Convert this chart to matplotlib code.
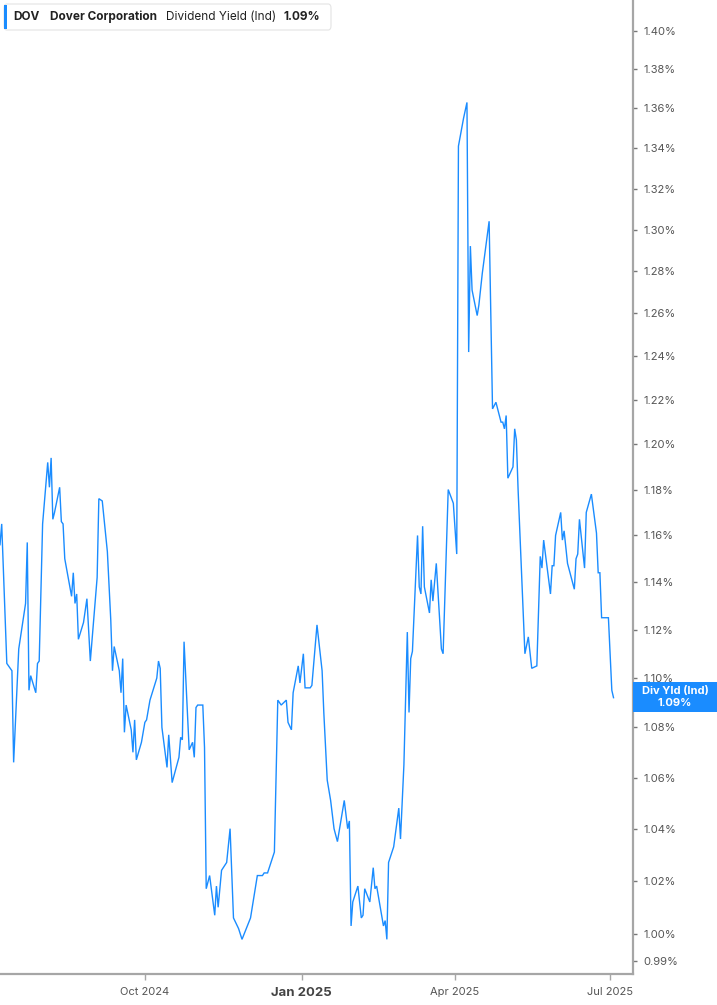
import matplotlib
matplotlib.use("Agg")
import matplotlib.pyplot as plt
import matplotlib.dates as mdates
from matplotlib.patches import FancyBboxPatch, Rectangle
from matplotlib.ticker import FixedLocator, NullLocator, FuncFormatter
import pandas as pd

plt.rcParams['font.family'] = ['Inter', 'DejaVu Sans']

# ---------------- data ----------------
dates = [
    "2024-07-08", "2024-07-09", "2024-07-12", "2024-07-15", "2024-07-16", "2024-07-19",
    "2024-07-23", "2024-07-24", "2024-07-25", "2024-07-26", "2024-07-29", "2024-07-30",
    "2024-07-31", "2024-08-02", "2024-08-05", "2024-08-06", "2024-08-07", "2024-08-08",
    "2024-08-09", "2024-08-12", "2024-08-13", "2024-08-14", "2024-08-15", "2024-08-19",
    "2024-08-20", "2024-08-21", "2024-08-22", "2024-08-23", "2024-08-26", "2024-08-28",
    "2024-08-30", "2024-09-03", "2024-09-04", "2024-09-06", "2024-09-09", "2024-09-11",
    "2024-09-12", "2024-09-13", "2024-09-16", "2024-09-17", "2024-09-18", "2024-09-19",
    "2024-09-20", "2024-09-23", "2024-09-24", "2024-09-25", "2024-09-26", "2024-09-29",
    "2024-10-01", "2024-10-02", "2024-10-04", "2024-10-08", "2024-10-09", "2024-10-10",
    "2024-10-11", "2024-10-14", "2024-10-15", "2024-10-17", "2024-10-21", "2024-10-22",
    "2024-10-23", "2024-10-24", "2024-10-27", "2024-10-29", "2024-10-30", "2024-10-31",
    "2024-11-01", "2024-11-04", "2024-11-05", "2024-11-06", "2024-11-08", "2024-11-11",
    "2024-11-12", "2024-11-13", "2024-11-15", "2024-11-18", "2024-11-20", "2024-11-22",
    "2024-11-25", "2024-11-27", "2024-12-02", "2024-12-04", "2024-12-06", "2024-12-09",
    "2024-12-10", "2024-12-12", "2024-12-16", "2024-12-18", "2024-12-20", "2024-12-23",
    "2024-12-24", "2024-12-26", "2024-12-27", "2024-12-30", "2024-12-31", "2025-01-02",
    "2025-01-03", "2025-01-06", "2025-01-07", "2025-01-10", "2025-01-13", "2025-01-14",
    "2025-01-16", "2025-01-18", "2025-01-20", "2025-01-22", "2025-01-26", "2025-01-28",
    "2025-01-29", "2025-01-30", "2025-01-31", "2025-02-03", "2025-02-05", "2025-02-06",
    "2025-02-07", "2025-02-10", "2025-02-12", "2025-02-13", "2025-02-14", "2025-02-18",
    "2025-02-19", "2025-02-20", "2025-02-21", "2025-02-24", "2025-02-27", "2025-02-28",
    "2025-03-02", "2025-03-04", "2025-03-05", "2025-03-06", "2025-03-07", "2025-03-10",
    "2025-03-11", "2025-03-12", "2025-03-13", "2025-03-14", "2025-03-17", "2025-03-18",
    "2025-03-19", "2025-03-21", "2025-03-24", "2025-03-25", "2025-03-28", "2025-03-31",
    "2025-04-02", "2025-04-03", "2025-04-06", "2025-04-08", "2025-04-09", "2025-04-10",
    "2025-04-11", "2025-04-14", "2025-04-15", "2025-04-17", "2025-04-21", "2025-04-23",
    "2025-04-25", "2025-04-28", "2025-04-29", "2025-04-30", "2025-05-01", "2025-05-02",
    "2025-05-05", "2025-05-06", "2025-05-07", "2025-05-08", "2025-05-12", "2025-05-14",
    "2025-05-16", "2025-05-19", "2025-05-21", "2025-05-22", "2025-05-23", "2025-05-27",
    "2025-05-28", "2025-05-29", "2025-05-30", "2025-06-02", "2025-06-03", "2025-06-04",
    "2025-06-06", "2025-06-10", "2025-06-11", "2025-06-12", "2025-06-13", "2025-06-16",
    "2025-06-17", "2025-06-20", "2025-06-23", "2025-06-24", "2025-06-25", "2025-06-26",
    "2025-06-28", "2025-06-30", "2025-07-02", "2025-07-03",
]
div_yield = [
    1.156, 1.165, 1.106, 1.103, 1.066, 1.112,
    1.131, 1.157, 1.095, 1.101, 1.094, 1.106,
    1.107, 1.165, 1.192, 1.181, 1.194, 1.167,
    1.170, 1.181, 1.166, 1.165, 1.150, 1.134,
    1.144, 1.131, 1.135, 1.116, 1.123, 1.133,
    1.107, 1.142, 1.176, 1.175, 1.153, 1.124,
    1.103, 1.113, 1.103, 1.094, 1.108, 1.078,
    1.089, 1.079, 1.070, 1.083, 1.067, 1.074,
    1.082, 1.083, 1.091, 1.100, 1.107, 1.104,
    1.080, 1.064, 1.077, 1.058, 1.068, 1.076,
    1.075, 1.115, 1.071, 1.074, 1.068, 1.088,
    1.089, 1.089, 1.072, 1.017, 1.022, 1.007,
    1.018, 1.010, 1.024, 1.027, 1.040, 1.006,
    1.002, 0.998, 1.006, 1.014, 1.022, 1.022,
    1.023, 1.023, 1.031, 1.091, 1.089, 1.091,
    1.082, 1.079, 1.094, 1.105, 1.098, 1.110,
    1.096, 1.096, 1.097, 1.122, 1.103, 1.086,
    1.059, 1.051, 1.040, 1.035, 1.051, 1.040,
    1.043, 1.003, 1.012, 1.018, 1.006, 1.007,
    1.017, 1.012, 1.025, 1.017, 1.018, 1.003,
    1.005, 0.998, 1.027, 1.033, 1.048, 1.036,
    1.065, 1.119, 1.086, 1.108, 1.111, 1.160,
    1.138, 1.135, 1.164, 1.138, 1.127, 1.141,
    1.132, 1.148, 1.112, 1.110, 1.180, 1.174,
    1.152, 1.341, 1.355, 1.363, 1.242, 1.292,
    1.271, 1.259, 1.264, 1.279, 1.304, 1.216,
    1.219, 1.210, 1.210, 1.207, 1.213, 1.185,
    1.190, 1.207, 1.202, 1.180, 1.110, 1.117,
    1.104, 1.105, 1.151, 1.146, 1.158, 1.135,
    1.147, 1.147, 1.160, 1.170, 1.158, 1.162,
    1.148, 1.137, 1.150, 1.152, 1.167, 1.146,
    1.170, 1.178, 1.161, 1.144, 1.144, 1.125,
    1.125, 1.125, 1.095, 1.092,
]
y_ticks = [0.99, 1.00, 1.02, 1.04, 1.06, 1.08, 1.10, 1.12, 1.14, 1.16, 1.18,
           1.20, 1.22, 1.24, 1.26, 1.28, 1.30, 1.32, 1.34, 1.36, 1.38, 1.40]
x_ticks = ["2024-10-01", "2025-01-01", "2025-04-01", "2025-07-01"]
x_tick_labels = ["Oct 2024", "Jan 2025", "Apr 2025", "Jul 2025"]
ticker_symbol = "DOV"
company = "Dover Corporation"
metric = "Dividend Yield (Ind)"
last_label = "1.09%"
badge_title = "Div Yld (Ind)"

# ---------------- figure ----------------
W, H = 717, 1005
fig = plt.figure(figsize=(W / 100, H / 100), dpi=100)
fig.patch.set_facecolor("white")

def fx(px):
    return px / W

def fy(py):
    return 1 - py / H

ax = fig.add_axes([0, fy(974), fx(632.7), 974 / H])
ax.set_facecolor("white")

blue = "#1a8cff"
grey_txt = "#555555"
spine_c = "#a6a6a6"

ax.plot(pd.to_datetime(dates), div_yield, color=blue, lw=1.0, solid_joinstyle="miter")

ax.set_yscale("log")
ax.set_ylim(0.98521, 1.4160)
ax.set_xlim(pd.Timestamp("2024-07-08"), pd.Timestamp("2025-07-14 06:00"))

ax.yaxis.set_major_locator(FixedLocator(y_ticks))
ax.yaxis.set_minor_locator(NullLocator())
ax.yaxis.set_major_formatter(FuncFormatter(lambda v, p: f"{v:.2f}%"))
ax.yaxis.tick_right()
ax.tick_params(axis="y", which="major", length=3, width=1, color="#777777",
               labelsize=8, labelcolor=grey_txt, pad=5)

xt = pd.to_datetime(x_ticks)
ax.set_xticks(xt)
ax.set_xticklabels(x_tick_labels)
ax.tick_params(axis="x", which="major", length=4, width=1, color=spine_c,
               labelsize=8, labelcolor=grey_txt, pad=5)
ax.xaxis.set_minor_locator(NullLocator())
for lab in ax.get_xticklabels():
    if lab.get_text() == "Jan 2025":
        lab.set_fontweight("bold")
        lab.set_fontsize(9.5)
        lab.set_color("#444444")

for s in ["left", "top"]:
    ax.spines[s].set_visible(False)
for s in ["right", "bottom"]:
    ax.spines[s].set_color(spine_c)
    ax.spines[s].set_linewidth(1.6)

# legend box top-left
box = FancyBboxPatch((fx(4), fy(30)), fx(331) - fx(4), fy(4) - fy(30),
                     boxstyle="round,pad=0,rounding_size=0.004",
                     transform=fig.transFigure, facecolor="white",
                     edgecolor="#e4e4e4", linewidth=0.8, zorder=5)
fig.patches.append(box)
fig.patches.append(Rectangle((fx(4), fy(29)), fx(3), fy(5) - fy(29),
                             transform=fig.transFigure, facecolor=blue,
                             edgecolor="none", zorder=6))
ty = fy(17)
fig.text(fx(13), ty, ticker_symbol, fontsize=8.5, fontweight="bold", color="#222222",
         va="center", ha="left", zorder=7)
fig.text(fx(50), ty, company, fontsize=8.5, fontweight="bold", color="#222222",
         va="center", ha="left", zorder=7)
fig.text(fx(166), ty, metric, fontsize=8.5, color="#222222",
         va="center", ha="left", zorder=7)
fig.text(fx(284), ty, last_label, fontsize=8.5, fontweight="bold", color="#222222",
         va="center", ha="left", zorder=7)

# last-value badge at right
fig.patches.append(Rectangle((fx(633), fy(712)), fx(717) - fx(633), fy(682) - fy(712),
                             transform=fig.transFigure, facecolor=blue,
                             edgecolor="none", zorder=6))
fig.text(fx(675), fy(691), badge_title, fontsize=8, fontweight="bold", color="white",
         ha="center", va="center", zorder=7)
fig.text(fx(675), fy(703.5), last_label, fontsize=8, fontweight="bold", color="white",
         ha="center", va="center", zorder=7)

fig.savefig("out.png", dpi=100, facecolor="white")
